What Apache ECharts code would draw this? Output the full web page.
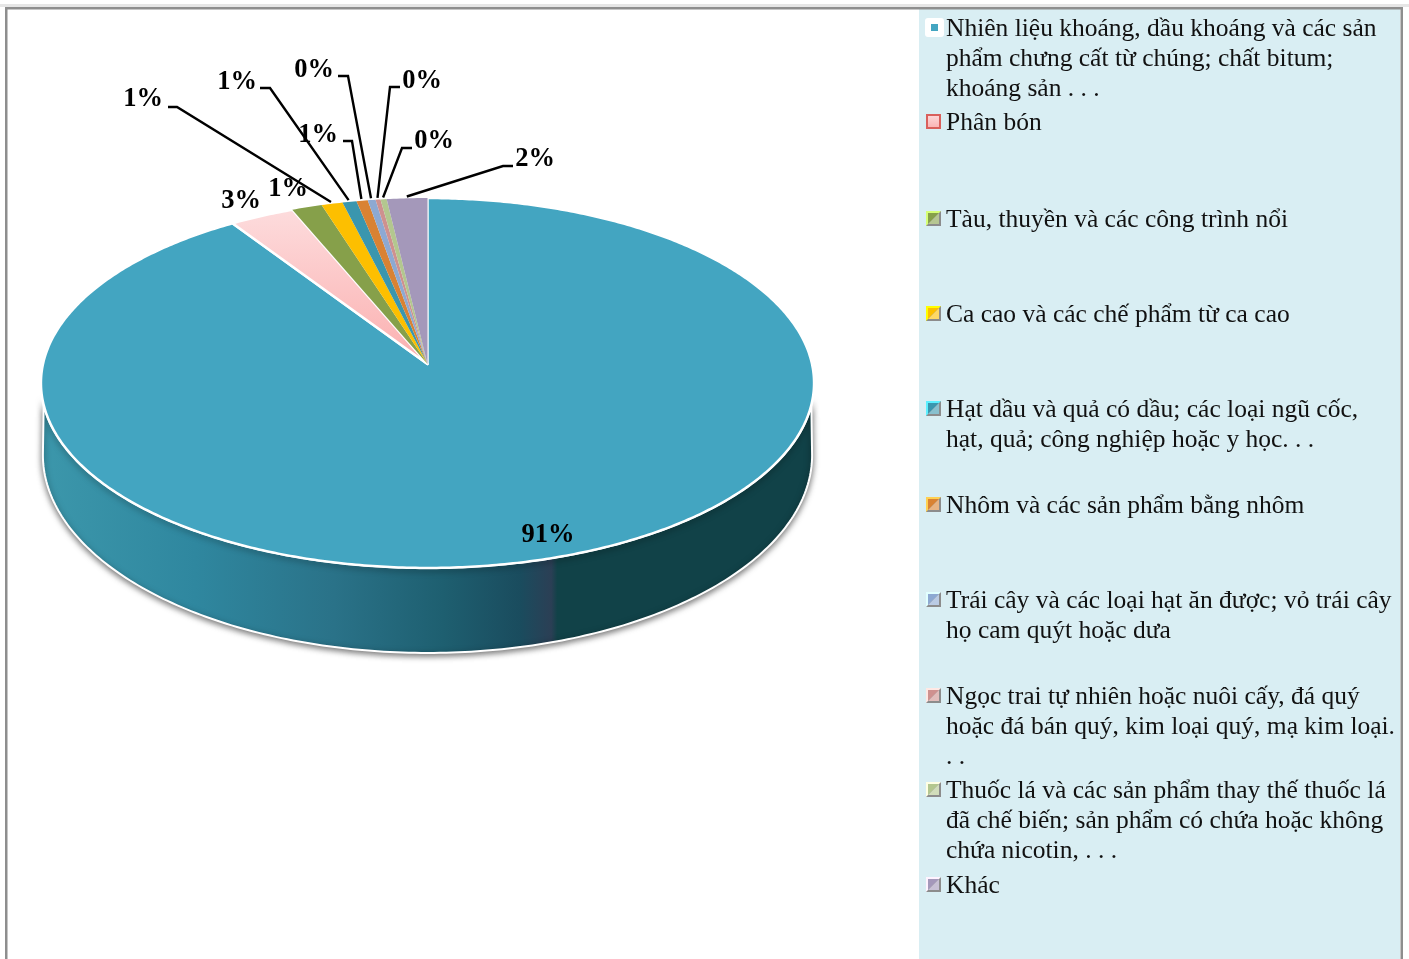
<!DOCTYPE html>
<html>
<head>
<meta charset="utf-8">
<style>
  html, body { margin: 0; padding: 0; background: #fff; }
  #chart { width: 1409px; height: 959px; }
</style>
<script src="https://cdn.jsdelivr.net/npm/echarts@6/dist/echarts.min.js"></script>
</head>
<body>
<div id="chart"></div>
<script>
const categories = [
  'Nhiên liệu khoáng, dầu khoáng và các sản\nphẩm chưng cất từ chúng; chất bitum;\nkhoáng sản . . .',
  'Phân bón',
  'Tàu, thuyền và các công trình nổi',
  'Ca cao và các chế phẩm từ ca cao',
  'Hạt dầu và quả có dầu; các loại ngũ cốc,\nhạt, quả; công nghiệp hoặc y học. . .',
  'Nhôm và các sản phẩm bằng nhôm',
  'Trái cây và các loại hạt ăn được; vỏ trái cây\nhọ cam quýt hoặc dưa',
  'Ngọc trai tự nhiên hoặc nuôi cấy, đá quý\nhoặc đá bán quý, kim loại quý, mạ kim loại.\n. .',
  'Thuốc lá và các sản phẩm thay thế thuốc lá\nđã chế biến; sản phẩm có chứa hoặc không\nchứa nicotin, . . .',
  'Khác'
];
const shares = [90.75, 3.0, 1.4, 0.98, 0.65, 0.52, 0.36, 0.23, 0.28, 1.87];

const sliceColors = ['#43A5C1', '#FBC4C4', '#86A04A', '#FDBF00', '#3A96AE', '#D98233', '#8DA9D2', '#CE918F', '#B3C78F', '#A498BA'];
// where each percent label sits, and the elbow of its leader line (null = no leader)
const labelAt = [[548, 533], [241, 199], [288, 187], [143, 97], [237, 80], [318, 133], [314, 68], [422, 79], [434, 139], [535, 157]];
const elbowAt = [null, null, null, [168, 177, 107], [260, 270, 88], [343, 352, 141], [338, 348, 76], [400, 390, 87], [412, 402, 148], [513, 503, 166]];
const legendTops = [28, 122, 219, 314, 409, 505, 600, 696, 790, 885];

const total = shares.reduce((a, b) => a + b, 0);
const starts = [];
shares.reduce((sum, v, i) => { starts[i] = sum; return sum + v; }, 0);
const toAngle = v => echarts.number.linearMap(v, [0, total], [0, Math.PI * 2]);

// tilted disc: a circle under a small perspective so the front looks bigger
const apex = [427.5, 364];
const radX = 384.5, radY = 183, tilt = 0.1027;
function project(angle, r, scaleX, scaleY, drop) {
  const x = Math.sin(angle) * (r || 1);
  const y = -Math.cos(angle) * (r || 1);
  const d = 1 - tilt * y;
  return [apex[0] + (radX * (scaleX || 1) * x) / d, apex[1] + (drop || 0) + (radY * (scaleY || 1) * y) / d];
}
function slicePoints(a0, a1) {
  const pts = [apex.slice()];
  const n = Math.max(2, Math.ceil((a1 - a0) / 0.01));
  for (let i = 0; i <= n; i++) pts.push(project(a0 + ((a1 - a0) * i) / n));
  return pts;
}
function wallPoints() {
  const pts = [];
  const a0 = Math.PI * 0.57, a1 = Math.PI * 1.43;
  for (let i = 0; i <= 200; i++) pts.push(project(a0 + ((a1 - a0) * i) / 200));
  const b0 = Math.PI * 0.533, b1 = Math.PI * 1.467;
  for (let i = 200; i >= 0; i--) pts.push(project(b0 + ((b1 - b0) * i) / 200, 1, 0.995, 1.07, 70.7));
  return pts;
}

function renderSlice(params, api) {
  const i = params.dataIndex;
  const a0 = toAngle(starts[i]);
  const a1 = toAngle(starts[i] + api.value(0));
  const children = [];
  if (i === 0) {
    children.push({
      type: 'polygon',
      shape: { points: wallPoints() },
      style: {
        fill: {
          type: 'linear', x: 41, y: 0, x2: 814, y2: 0, global: true,
          colorStops: [
            { offset: 0, color: '#3C97AB' },
            { offset: 0.2, color: '#2F879F' },
            { offset: 0.38, color: '#2A7288' },
            { offset: 0.52, color: '#1E5F70' },
            { offset: 0.62, color: '#1A4C5E' },
            { offset: 0.66, color: '#2B3F55' },
            { offset: 0.668, color: '#114248' },
            { offset: 1, color: '#114248' }
          ]
        },
        stroke: '#fff',
        lineWidth: 2,
        shadowBlur: 6,
        shadowColor: 'rgba(0,0,0,0.55)',
        shadowOffsetY: 2
      }
    });
  }
  children.push({
    type: 'polygon',
    shape: { points: slicePoints(a0, a1) },
    style: {
      fill: i === 1
        ? { type: 'linear', x: 0, y: 0, x2: 0, y2: 1, colorStops: [{ offset: 0, color: '#FDDCDD' }, { offset: 1, color: '#FBAFAF' }] }
        : sliceColors[i],
      stroke: i < 2 ? '#fff' : 'none',
      lineWidth: 2.5,
      lineJoin: 'round'
    },
    z2: i < 2 ? 1 : 2
  });
  if (elbowAt[i]) {
    const e = elbowAt[i];
    const tip = project((a0 + a1) / 2, 1.012);
    children.push({
      type: 'polyline',
      shape: { points: [[e[0], e[2]], [e[1], e[2]], tip] },
      style: { stroke: '#000', lineWidth: 2.4, fill: 'none' },
      z2: 5
    });
  }
  children.push({
    type: 'text',
    x: labelAt[i][0],
    y: labelAt[i][1] + 2,
    style: {
      text: Math.round((api.value(0) / total) * 100) + '%',
      font: 'bold 26.5px "Liberation Serif"',
      fill: '#000',
      align: 'center',
      verticalAlign: 'middle'
    },
    z2: 6
  });
  return { type: 'group', children };
}

// legend markers are small bevelled squares, like the office chart legend
function legendMarker(i, top) {
  const x = 926, y = top - 8, s = 15, c = sliceColors[i];
  if (i === 0) {
    return [
      { type: 'rect', shape: { x: x - 1, y: y - 2, width: 19, height: 19, r: 3 }, style: { fill: '#fff' } },
      { type: 'rect', shape: { x: x + 5, y: y + 4, width: 7, height: 7 }, style: { fill: c } }
    ];
  }
  if (i === 1) {
    return [{
      type: 'rect',
      shape: { x: x + 1, y: y + 1, width: s - 2, height: s - 2 },
      style: {
        fill: { type: 'linear', x: 0, y: 0, x2: 0, y2: 1, colorStops: [{ offset: 0, color: '#FDDCDD' }, { offset: 1, color: '#FBAFAF' }] },
        stroke: '#D9605C',
        lineWidth: 2
      }
    }];
  }
  const b = 2;
  const inner = [[x + b, y + b], [x + s - b, y + b], [x + s - b, y + s - b], [x + b, y + s - b]];
  return [
    { type: 'rect', shape: { x, y, width: s, height: s }, style: { fill: '#8C8C8C' } },
    { type: 'polygon', shape: { points: [[x, y], [x + s, y], [x + s - b, y + b], [x + b, y + b], [x + b, y + s - b], [x, y + s]] }, style: { fill: echarts.color.lift(c, -0.6) } },
    { type: 'polygon', shape: { points: [inner[0], inner[1], inner[3]] }, style: { fill: c } },
    { type: 'polygon', shape: { points: [inner[1], inner[2], inner[3]] }, style: { fill: echarts.color.lift(c, 0.4) } }
  ];
}

const frame = [
  { type: 'rect', shape: { x: 0, y: 4, width: 1409, height: 3 }, style: { fill: '#E6E6E6' } },
  { type: 'rect', shape: { x: 919, y: 9, width: 481, height: 950 }, style: { fill: '#D9EEF3' } },
  { type: 'rect', shape: { x: 5, y: 7, width: 1398, height: 2.5 }, style: { fill: '#8E8E8E' } },
  { type: 'rect', shape: { x: 5, y: 7, width: 2.5, height: 952 }, style: { fill: '#8E8E8E' } },
  { type: 'rect', shape: { x: 1400.5, y: 7, width: 2.5, height: 952 }, style: { fill: '#8E8E8E' } }
];
const legendItems = [];
categories.forEach((name, i) => {
  legendMarker(i, legendTops[i]).forEach(el => legendItems.push(el));
  legendItems.push({
    type: 'text',
    x: 946,
    y: legendTops[i] - 14,
    style: { text: name, font: '25.5px "Liberation Serif"', lineHeight: 30, fill: '#111' }
  });
});

const chart = echarts.init(document.getElementById('chart'), null, { renderer: 'canvas' });
chart.setOption({
  animation: false,
  backgroundColor: '#fff',
  graphic: { elements: frame.concat(legendItems) },
  series: [{
    type: 'custom',
    coordinateSystem: 'none',
    z: 3,
    renderItem: renderSlice,
    data: shares.map((v, i) => ({ name: categories[i], value: [v] }))
  }]
});
</script>
</body>
</html>
